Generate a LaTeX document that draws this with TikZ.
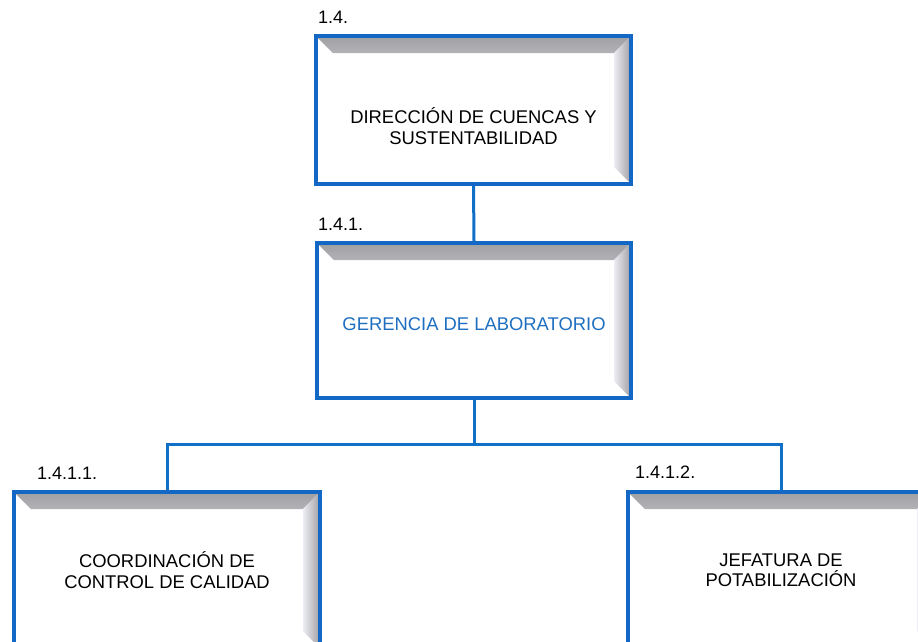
\documentclass[tikz,border=0pt]{standalone}
\usepackage{fontspec}
\setmainfont{Liberation Sans}
\usetikzlibrary{positioning}
\definecolor{boxblue}{RGB}{18,104,196}
\definecolor{lineblue}{RGB}{16,112,200}
\definecolor{textblue}{RGB}{31,111,192}
\definecolor{bevdark}{RGB}{160,160,163}
\definecolor{bevmid}{RGB}{178,178,182}
\definecolor{bevlight}{RGB}{236,236,244}
\tikzset{
    orgbox/.style={
        rectangle,
        draw=boxblue, line width=4pt,
        fill=white,
        path picture={
            \coordinate (pnw) at (path picture bounding box.north west);
            \coordinate (pne) at (path picture bounding box.north east);
            \coordinate (pse) at (path picture bounding box.south east);
            \shade[top color=bevdark, bottom color=bevmid]
                (pnw) -- (pne) -- ([shift={(-17pt,-17pt)}]pne)
                -- ([shift={(17pt,-17pt)}]pnw) -- cycle;
            \shade[left color=bevlight, right color=bevdark]
                ([shift={(-17pt,-17pt)}]pne) -- (pne) -- (pse)
                -- ([shift={(-17pt,17pt)}]pse) -- cycle;
        }
    },
    boxtext/.style={
        align=center,
        font=\fontsize{18.4}{20.5}\selectfont,
        inner sep=0pt
    },
    numlabel/.style={
        anchor=base west,
        font=\fontsize{18}{20}\selectfont,
        inner sep=0pt
    }
}
\begin{document}
\begin{tikzpicture}[x=1pt, y=-1pt,
    conn/.style={draw=lineblue, line width=3pt}]
\useasboundingbox (0,0) rectangle (918,641);
\fill[white] (0,0) rectangle (918,641);
\clip (0,0) rectangle (918,641);
% boxes
\node[orgbox, minimum width=315pt, minimum height=148pt] (d1) at (473.5,110) {};
\node[orgbox, minimum width=314pt, minimum height=155pt] (d2) at (474,320.5) {};
\node[orgbox, minimum width=306pt, minimum height=156pt] (d3) at (167,570) {};
\node[orgbox, minimum width=306pt, minimum height=156pt] (d4) at (781,570) {};
% texts
\node[boxtext] (t1) at ([yshift=-16pt]d1.center) {DIRECCIÓN DE CUENCAS Y\\SUSTENTABILIDAD};
\node[boxtext, text=textblue] (t2) at ([yshift=-4pt]d2.center) {GERENCIA DE LABORATORIO};
\node[boxtext] (t3) at (d3.center) {COORDINACIÓN DE\\CONTROL DE CALIDAD};
\node[boxtext] (t4) at (d4.center) {JEFATURA DE\\POTABILIZACIÓN};
% numbers
\node[numlabel] (n1) at (318,23) {1.4.};
\node[numlabel] (n2) at (318,230) {1.4.1.};
\node[numlabel] (n3) at (37,479) {1.4.1.1.};
\node[numlabel] (n4) at (635,478) {1.4.1.2.};
% connectors
\coordinate (bus) at (474,444);
\draw[conn] (d1.south) -- (d2.north);
\draw[conn] (d2.south) -- (bus) -| (d3.north);
\draw[conn] (bus) -| (d4.north);
\end{tikzpicture}
\end{document}
